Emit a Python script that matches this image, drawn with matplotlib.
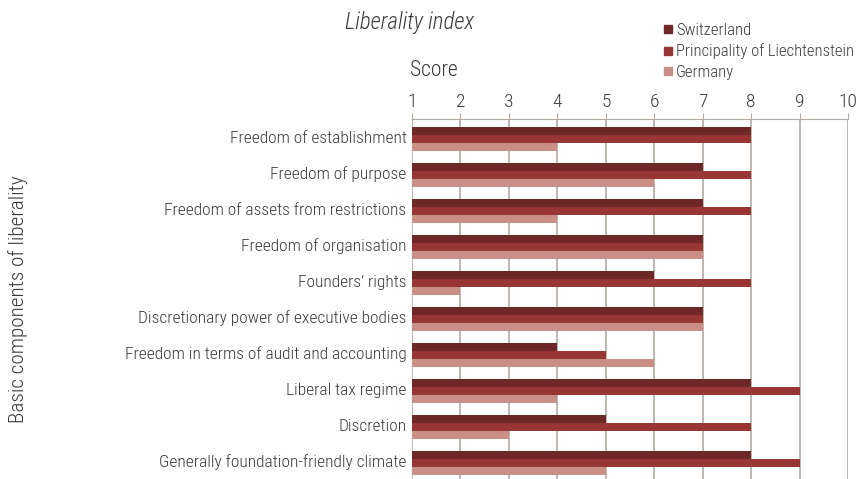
import matplotlib

matplotlib.use("Agg")
import matplotlib.pyplot as plt
from matplotlib.lines import Line2D
import numpy as np

categories = [
    "Freedom of establishment",
    "Freedom of purpose",
    "Freedom of assets from restrictions",
    "Freedom of organisation",
    "Founders\u2019 rights",
    "Discretionary power of executive bodies",
    "Freedom in terms of audit and accounting",
    "Liberal tax regime",
    "Discretion",
    "Generally foundation-friendly climate",
]
switzerland = [8, 7, 7, 7, 6, 7, 4, 8, 5, 8]
liechtenstein = [8, 8, 8, 7, 8, 7, 5, 9, 8, 9]
germany = [4, 6, 4, 7, 2, 7, 6, 4, 3, 5]
series_names = ["Switzerland", "Principality of Liechtenstein", "Germany"]
colors = ["#6e2828", "#983636", "#c98e86"]

plt.rcParams["font.family"] = ["Roboto Condensed", "DejaVu Sans"]
plt.rcParams["font.weight"] = "light"
text_color = "#3a3a3a"
grid_color = "#b3aaa3"

fig = plt.figure(figsize=(8.57, 4.79), dpi=100)
ax = fig.add_axes([0.4807, 0.0, 0.5088, 0.7516])

y = np.arange(len(categories))
h = 0.225
for k, (vals, col, name) in enumerate(zip([switzerland, liechtenstein, germany], colors, series_names)):
    ax.barh(y + (k - 1) * h + 0.06, np.array(vals) - 1, left=1, height=h,
            color=col, label=name, zorder=3)

ax.set_xlim(1, 10)
ax.set_ylim(len(categories) - 0.5, -0.5)
ax.set_xticks(range(1, 11))
ax.xaxis.tick_top()
ax.tick_params(axis="x", length=4, color=grid_color, labelsize=14, labelcolor=text_color, pad=2)
ax.set_yticks(y)
ax.set_yticklabels(categories)
ax.tick_params(axis="y", length=0, labelsize=12.5, labelcolor=text_color, pad=4)
ax.grid(axis="x", color=grid_color, lw=1.2, zorder=0)
for s in ["right", "bottom", "left"]:
    ax.spines[s].set_visible(False)
ax.spines["top"].set_color(grid_color)

fig.text(0.478, 0.952, "Liberality index", fontsize=16.5, style="italic", color=text_color,
         ha="center", va="center")
fig.text(0.506, 0.853, "Score", fontsize=15.5, color=text_color, ha="center", va="center")
fig.text(0.021, 0.375, "Basic components of liberality", fontsize=15.3, color=text_color,
         rotation=90, ha="center", va="center")

# square swatches like the original key
handles = [Line2D([], [], ls="none", marker="s", markersize=6, color=c) for c in colors]
leg = fig.legend(handles, series_names, loc="upper left", bbox_to_anchor=(0.757, 0.983),
                 frameon=False, fontsize=12, handlelength=0.5, handletextpad=0.25,
                 labelspacing=0.32, labelcolor=text_color)

fig.savefig("out.png", dpi=100)
